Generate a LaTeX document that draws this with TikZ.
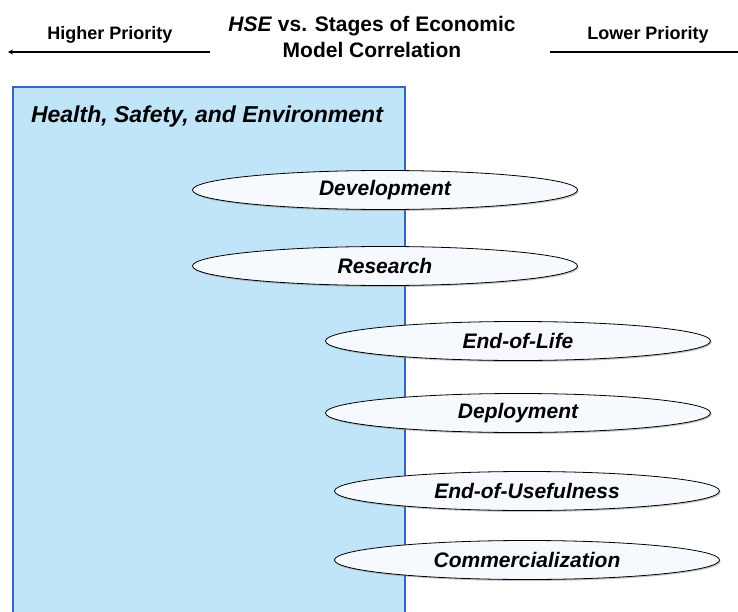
\documentclass[tikz,border=0pt]{standalone}
\usepackage{fontspec}
\setmainfont{Liberation Sans}
\usepackage{tikz}
\usetikzlibrary{arrows.meta,shapes.geometric,shadows}
\definecolor{hseblue}{HTML}{C0E4F8}
\definecolor{hseedge}{HTML}{3565BD}
\definecolor{stagefill}{HTML}{F6FAFE}

\begin{document}
\begin{tikzpicture}[x=1pt,y=-1pt]
      \useasboundingbox (0,0) rectangle (738,612);
      \node[font=\fontsize{18}{22}\selectfont\bfseries] (HP) at (110,35) {Higher Priority};
      \node[font=\fontsize{18}{22}\selectfont\bfseries] (LP) at (648,35) {Lower Priority};
      \node[font=\fontsize{21}{26}\selectfont\bfseries, align=center] (T) at (372,37)
          {\textit{HSE} vs. Stages of Economic\\Model Correlation};
      \coordinate (HPa) at (210,52);
      \coordinate (HPb) at (8,52);
      \coordinate (LPa) at (550,52);
      \coordinate (LPb) at (738,52);
      \draw[line width=1.8, -{Stealth[length=5,width=5]}] (HPa) -- (HPb);
      \draw[line width=1.8] (LPa) -- (LPb);

      \node[draw=hseedge, fill=hseblue, line width=2, anchor=north west,
            minimum width=392, minimum height=532, inner sep=0] (HSE) at (12,86) {};
      \node[font=\fontsize{23}{28}\selectfont\bfseries\itshape] (HSEt) at (207,117)
          {Health, Safety, and Environment};

      \begin{scope}[every node/.style={ellipse, draw, thick, fill=stagefill,
                    minimum width=385, minimum height=39, inner sep=0,
                    drop shadow={shadow xshift=1.2pt, shadow yshift=-1.5pt, opacity=0.45},
                    font=\fontsize{21}{25}\selectfont\bfseries\itshape}]
          \node (S1) at (385,190) {Development};
          \node (S2) at (385,266) {Research};
          \node (S3) at (518,341) {End-of-Life};
          \node (S4) at (518,413) {Deployment};
          \node (S5) at (527,491) {End-of-Usefulness};
          \node (S6) at (527,560) {Commercialization};
      \end{scope}
\end{tikzpicture}
\end{document}
